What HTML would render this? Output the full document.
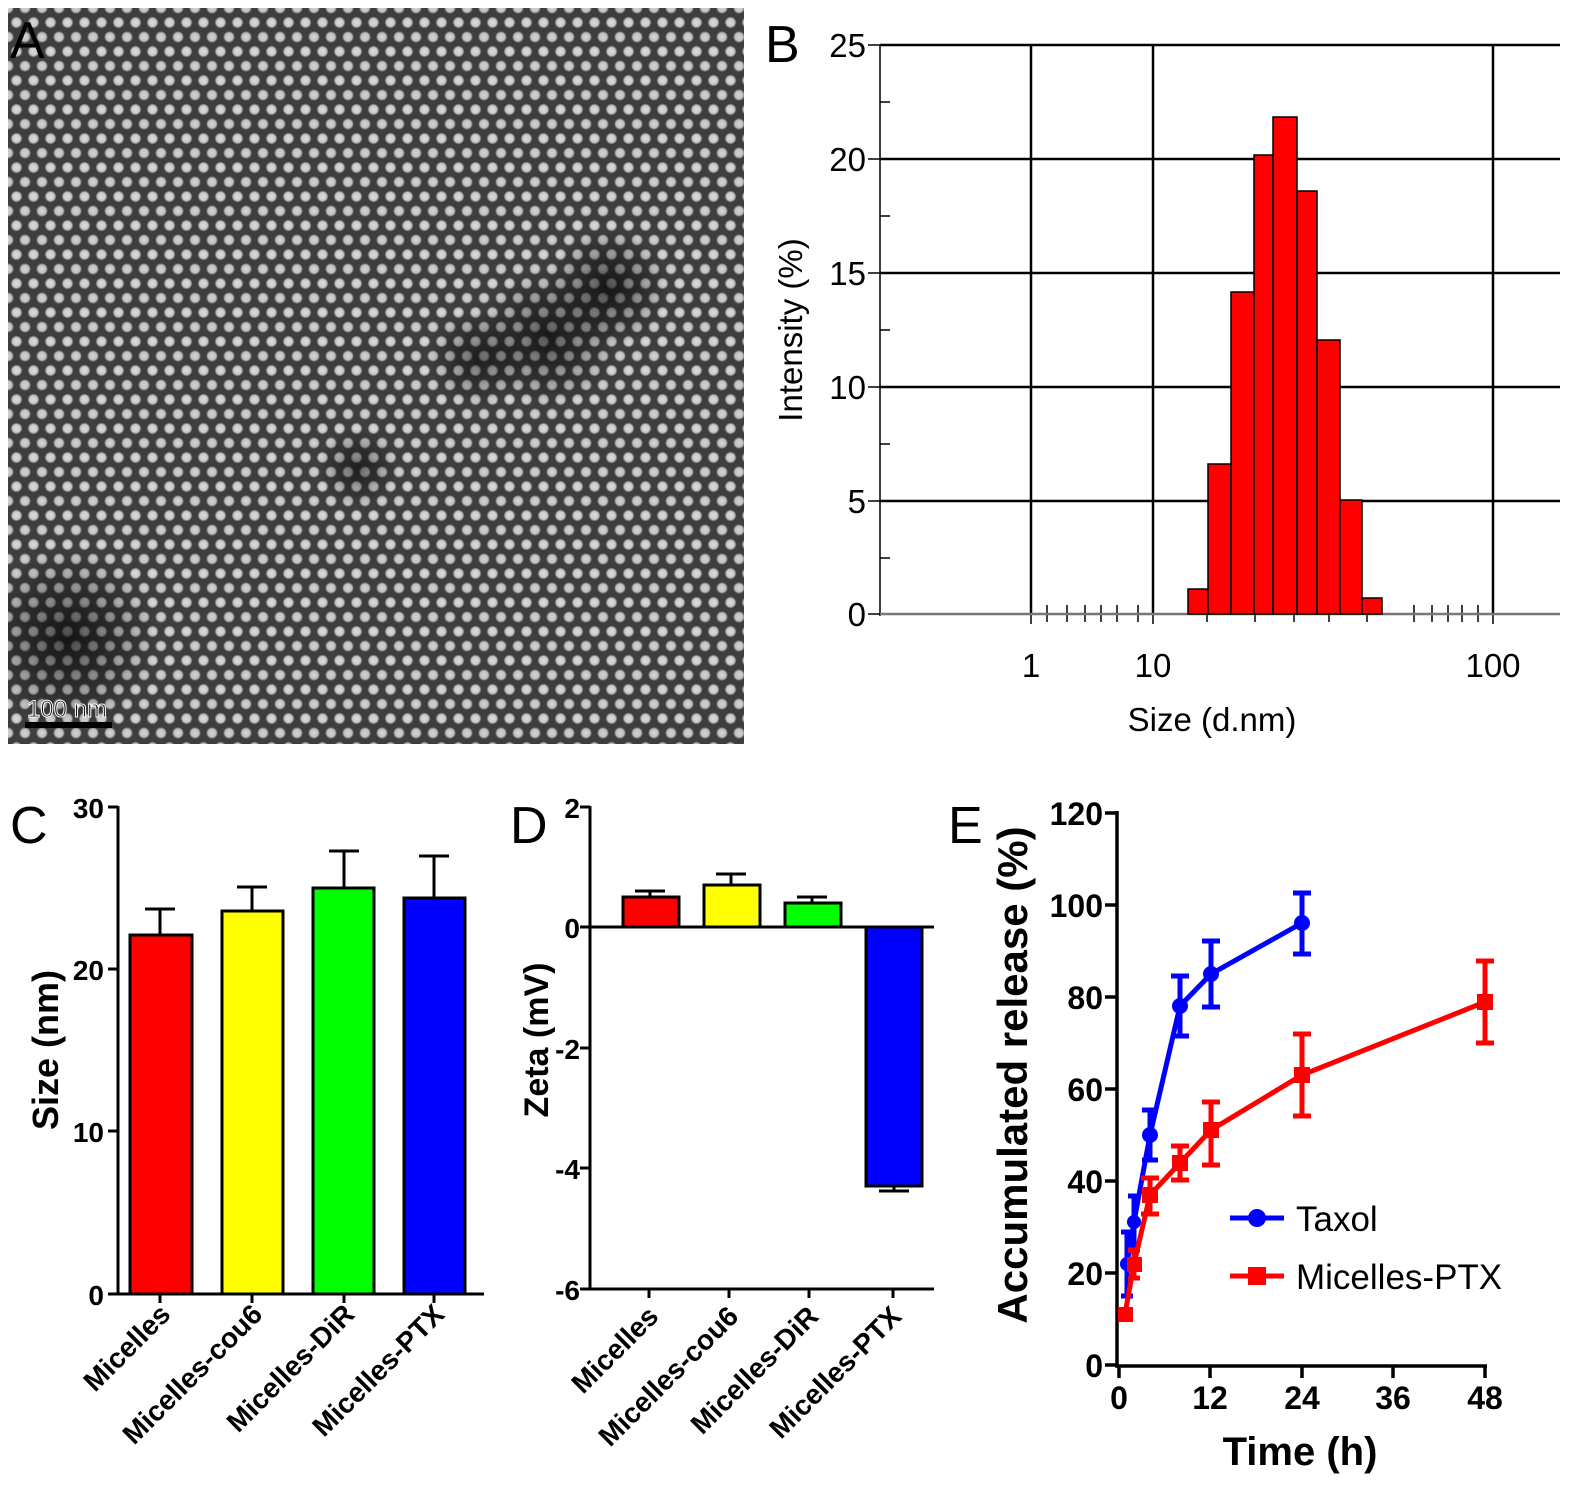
<!DOCTYPE html>
<html><head><meta charset="utf-8"><style>
html,body{margin:0;padding:0;background:#fff;}
body{width:1575px;height:1493px;position:relative;overflow:hidden;}
#tem{position:absolute;left:8px;top:8px;width:736px;height:736px;
background:
radial-gradient(circle at 50% 50%, rgba(0,0,0,0.6) 0, rgba(0,0,0,0) 70px) 470px 260px/140px 140px no-repeat,
radial-gradient(circle at 50% 50%, rgba(0,0,0,0.65) 0, rgba(0,0,0,0) 60px) 540px 200px/120px 160px no-repeat,
radial-gradient(circle at 50% 50%, rgba(0,0,0,0.65) 0, rgba(0,0,0,0) 90px) -30px 540px/180px 180px no-repeat,
radial-gradient(circle at 50% 50%, rgba(0,0,0,0.5) 0, rgba(0,0,0,0) 40px) 310px 420px/80px 80px no-repeat,
radial-gradient(circle at 50% 50%, rgba(0,0,0,0.5) 0, rgba(0,0,0,0) 50px) 420px 300px/100px 100px no-repeat,
radial-gradient(circle, #dcdcdc 0, #c8c8c8 4px, rgba(60,60,60,0) 6px) 0 0/17px 29px,
radial-gradient(circle, #d4d4d4 0, #c0c0c0 4px, rgba(60,60,60,0) 6px) 8.5px 14.5px/17px 29px,
#3e3e3e;}
text{font-family:"Liberation Sans",sans-serif;}
</style></head><body>
<div id="tem"></div>
<svg width="1575" height="1493" style="position:absolute;left:0;top:0">
<!-- scale bar A -->
<text x="27" y="717" font-size="24" fill="#111" stroke="#fff" stroke-width="1">100 nm</text>
<line x1="25" y1="725" x2="112" y2="725" stroke="#000" stroke-width="6"/>
<text x="10" y="58" font-size="52" fill="#000">A</text>

<!-- Panel B -->
<text x="765" y="62" font-size="52">B</text>
<g stroke="#000" stroke-width="2.5">
<line x1="880" y1="45" x2="1560" y2="45"/><line x1="880" y1="159" x2="1560" y2="159"/>
<line x1="880" y1="273" x2="1560" y2="273"/><line x1="880" y1="387" x2="1560" y2="387"/>
<line x1="880" y1="501" x2="1560" y2="501"/>
<line x1="1031" y1="45" x2="1031" y2="614"/><line x1="1153" y1="45" x2="1153" y2="614"/><line x1="1493" y1="45" x2="1493" y2="614"/>
</g>
<g stroke="#000" stroke-width="1.5">
<line x1="880" y1="45" x2="880" y2="616"/>
<line x1="868" y1="45" x2="880" y2="45"/><line x1="868" y1="159" x2="880" y2="159"/><line x1="868" y1="273" x2="880" y2="273"/><line x1="868" y1="387" x2="880" y2="387"/><line x1="868" y1="501" x2="880" y2="501"/><line x1="868" y1="614" x2="880" y2="614"/>
<line x1="880" y1="102" x2="890" y2="102"/><line x1="880" y1="216" x2="890" y2="216"/><line x1="880" y1="330" x2="890" y2="330"/><line x1="880" y1="444" x2="890" y2="444"/><line x1="880" y1="558" x2="890" y2="558"/>
<line x1="1031" y1="604" x2="1031" y2="624"/><line x1="1153" y1="604" x2="1153" y2="624"/><line x1="1493" y1="604" x2="1493" y2="624"/>
<line x1="1047" y1="605" x2="1047" y2="622"/><line x1="1067" y1="605" x2="1067" y2="622"/><line x1="1085" y1="605" x2="1085" y2="622"/><line x1="1101" y1="605" x2="1101" y2="622"/><line x1="1117" y1="605" x2="1117" y2="622"/><line x1="1138" y1="605" x2="1138" y2="622"/>
<line x1="1207" y1="605" x2="1207" y2="622"/><line x1="1255" y1="605" x2="1255" y2="622"/><line x1="1294" y1="605" x2="1294" y2="622"/><line x1="1329" y1="605" x2="1329" y2="622"/><line x1="1367" y1="605" x2="1367" y2="622"/>
<line x1="1414" y1="605" x2="1414" y2="622"/><line x1="1432" y1="605" x2="1432" y2="622"/><line x1="1448" y1="605" x2="1448" y2="622"/><line x1="1462" y1="605" x2="1462" y2="622"/><line x1="1478" y1="605" x2="1478" y2="622"/>
</g>
<line x1="880" y1="614" x2="1560" y2="614" stroke="#777" stroke-width="2.5"/>
<g fill="#ff0000" stroke="#000" stroke-width="1.5">
<rect x="1188" y="589" width="20" height="25"/>
<rect x="1208" y="464" width="23" height="150"/>
<rect x="1231" y="292" width="23" height="322"/>
<rect x="1254" y="155" width="19" height="459"/>
<rect x="1273" y="117" width="24" height="497"/>
<rect x="1297" y="191" width="20" height="423"/>
<rect x="1317" y="340" width="23" height="274"/>
<rect x="1340" y="500" width="22" height="114"/>
<rect x="1362" y="598" width="20" height="16"/>
</g>
<g font-size="33" text-anchor="end">
<text x="866" y="57">25</text><text x="866" y="171">20</text><text x="866" y="285">15</text><text x="866" y="399">10</text><text x="866" y="513">5</text><text x="866" y="626">0</text>
</g>
<g font-size="33" text-anchor="middle">
<text x="1031" y="677">1</text><text x="1153" y="677">10</text><text x="1493" y="677">100</text>
<text x="1212" y="731">Size (d.nm)</text>
<text transform="translate(802,330) rotate(-90)">Intensity (%)</text>
</g>

<!-- Panel C -->
<text x="10" y="843" font-size="52">C</text>
<g stroke="#000" stroke-width="3">
<line x1="118" y1="806" x2="118" y2="1295"/><line x1="116" y1="1294" x2="484" y2="1294"/>
<line x1="108" y1="807" x2="118" y2="807"/><line x1="108" y1="969" x2="118" y2="969"/><line x1="108" y1="1131" x2="118" y2="1131"/><line x1="108" y1="1294" x2="118" y2="1294"/>
<line x1="160" y1="1294" x2="160" y2="1303"/><line x1="252" y1="1294" x2="252" y2="1303"/><line x1="344" y1="1294" x2="344" y2="1303"/><line x1="434" y1="1294" x2="434" y2="1303"/>
<line x1="160" y1="935" x2="160" y2="909"/><line x1="145" y1="909" x2="175" y2="909"/>
<line x1="252" y1="911" x2="252" y2="887"/><line x1="237" y1="887" x2="267" y2="887"/>
<line x1="344" y1="888" x2="344" y2="851"/><line x1="329" y1="851" x2="359" y2="851"/>
<line x1="434" y1="898" x2="434" y2="856"/><line x1="419" y1="856" x2="449" y2="856"/>
<rect x="130" y="935" width="62" height="359" fill="#ff0000"/>
<rect x="222" y="911" width="61" height="383" fill="#ffff00"/>
<rect x="313" y="888" width="61" height="406" fill="#00ff00"/>
<rect x="404" y="898" width="61" height="396" fill="#0000ff"/>
</g>
<g font-size="28" font-weight="bold" text-anchor="end">
<text x="104" y="818">30</text><text x="104" y="980">20</text><text x="104" y="1142">10</text><text x="104" y="1305">0</text>
</g>
<text transform="translate(58,1050) rotate(-90)" font-size="36" font-weight="bold" text-anchor="middle">Size (nm)</text>
<g font-size="28" font-weight="bold" text-anchor="end">
<text transform="translate(172,1316) rotate(-45)">Micelles</text>
<text transform="translate(264,1316) rotate(-45)">Micelles-cou6</text>
<text transform="translate(356,1316) rotate(-45)">Micelles-DiR</text>
<text transform="translate(446,1316) rotate(-45)">Micelles-PTX</text>
</g>

<!-- Panel D -->
<text x="510" y="843" font-size="52">D</text>
<g stroke="#000" stroke-width="3">
<line x1="590" y1="806" x2="590" y2="1290"/><line x1="588" y1="927" x2="934" y2="927"/>
<line x1="588" y1="1289" x2="934" y2="1289"/>
<line x1="649" y1="1289" x2="649" y2="1298"/><line x1="729" y1="1289" x2="729" y2="1298"/><line x1="809" y1="1289" x2="809" y2="1298"/><line x1="893" y1="1289" x2="893" y2="1298"/>
<line x1="580" y1="807" x2="590" y2="807"/><line x1="580" y1="927" x2="590" y2="927"/><line x1="580" y1="1048" x2="590" y2="1048"/><line x1="580" y1="1168" x2="590" y2="1168"/><line x1="580" y1="1289" x2="590" y2="1289"/>
<line x1="650" y1="897" x2="650" y2="891"/><line x1="635" y1="891" x2="665" y2="891"/>
<line x1="731" y1="885" x2="731" y2="874"/><line x1="716" y1="874" x2="746" y2="874"/>
<line x1="812" y1="903" x2="812" y2="897"/><line x1="797" y1="897" x2="827" y2="897"/>
<line x1="894" y1="1186" x2="894" y2="1191"/><line x1="879" y1="1191" x2="909" y2="1191"/>
<rect x="623" y="897" width="56" height="30" fill="#ff0000"/>
<rect x="704" y="885" width="56" height="42" fill="#ffff00"/>
<rect x="785" y="903" width="56" height="24" fill="#00ff00"/>
<rect x="866" y="927" width="56" height="259" fill="#0000ff"/>
</g>
<g font-size="28" font-weight="bold" text-anchor="end">
<text x="580" y="818">2</text><text x="580" y="938">0</text><text x="580" y="1059">-2</text><text x="580" y="1179">-4</text><text x="580" y="1300">-6</text>
</g>
<text transform="translate(548,1040) rotate(-90)" font-size="34" font-weight="bold" text-anchor="middle">Zeta (mV)</text>
<g font-size="28" font-weight="bold" text-anchor="end">
<text transform="translate(660,1318) rotate(-45)">Micelles</text>
<text transform="translate(740,1318) rotate(-45)">Micelles-cou6</text>
<text transform="translate(820,1318) rotate(-45)">Micelles-DiR</text>
<text transform="translate(903,1318) rotate(-45)">Micelles-PTX</text>
</g>

<!-- Panel E -->
<text x="948" y="843" font-size="52">E</text>
<g stroke="#000" stroke-width="3.5">
<line x1="1117" y1="811" x2="1117" y2="1367"/><line x1="1115" y1="1366" x2="1487" y2="1366"/>
<line x1="1105" y1="813" x2="1117" y2="813"/><line x1="1105" y1="905" x2="1117" y2="905"/><line x1="1105" y1="997" x2="1117" y2="997"/><line x1="1105" y1="1089" x2="1117" y2="1089"/><line x1="1105" y1="1181" x2="1117" y2="1181"/><line x1="1105" y1="1273" x2="1117" y2="1273"/><line x1="1105" y1="1365" x2="1117" y2="1365"/>
<line x1="1119" y1="1366" x2="1119" y2="1378"/><line x1="1210" y1="1366" x2="1210" y2="1378"/><line x1="1302" y1="1366" x2="1302" y2="1378"/><line x1="1393" y1="1366" x2="1393" y2="1378"/><line x1="1485" y1="1366" x2="1485" y2="1378"/>
</g>
<g font-size="32" font-weight="bold" text-anchor="end">
<text x="1103" y="825">120</text><text x="1103" y="917">100</text><text x="1103" y="1009">80</text><text x="1103" y="1101">60</text><text x="1103" y="1193">40</text><text x="1103" y="1285">20</text><text x="1103" y="1377">0</text>
</g>
<g font-size="32" font-weight="bold" text-anchor="middle">
<text x="1119" y="1409">0</text><text x="1210" y="1409">12</text><text x="1302" y="1409">24</text><text x="1393" y="1409">36</text><text x="1485" y="1409">48</text>
</g>
<text x="1300" y="1465" font-size="40" font-weight="bold" text-anchor="middle">Time (h)</text>
<text transform="translate(1027,1075) rotate(-90)" font-size="42" font-weight="bold" text-anchor="middle">Accumulated release (%)</text>
<!-- taxol -->
<g stroke="#0000ff" stroke-width="5" fill="none">
<polyline points="1127,1264 1134,1222 1150,1135 1180,1006 1211,974 1302,923"/>
<path d="M1127,1232V1296M1121,1232h12M1121,1296h12"/>
<path d="M1134,1196V1248M1128,1196h12M1128,1248h12"/>
<path d="M1150,1110V1160M1142,1110h16M1142,1160h16"/>
<path d="M1180,976V1036M1171,976h18M1171,1036h18"/>
<path d="M1211,941V1007M1202,941h18M1202,1007h18"/>
<path d="M1302,893V954M1293,893h18M1293,954h18"/>
</g>
<g fill="#0000ff"><circle cx="1127" cy="1264" r="7"/><circle cx="1134" cy="1222" r="7"/><circle cx="1150" cy="1135" r="8"/><circle cx="1180" cy="1006" r="8"/><circle cx="1211" cy="974" r="8"/><circle cx="1302" cy="923" r="8"/></g>
<!-- PTX -->
<g stroke="#ff0000" stroke-width="5" fill="none">
<polyline points="1125,1314 1134,1264 1150,1195 1180,1163 1211,1130 1302,1075 1485,1002"/>
<path d="M1134,1250V1278M1128,1250h12M1128,1278h12"/>
<path d="M1150,1178V1214M1141,1178h18M1141,1214h18"/>
<path d="M1180,1146V1180M1171,1146h18M1171,1180h18"/>
<path d="M1211,1102V1165M1202,1102h18M1202,1165h18"/>
<path d="M1302,1034V1116M1293,1034h18M1293,1116h18"/>
<path d="M1485,961V1043M1476,961h18M1476,1043h18"/>
</g>
<g fill="#ff0000"><rect x="1118" y="1307" width="15" height="15"/><rect x="1127" y="1257" width="15" height="15"/><rect x="1142" y="1187" width="16" height="16"/><rect x="1172" y="1155" width="16" height="16"/><rect x="1203" y="1122" width="16" height="16"/><rect x="1294" y="1067" width="16" height="16"/><rect x="1477" y="994" width="16" height="16"/></g>
<!-- legend -->
<line x1="1230" y1="1218" x2="1284" y2="1218" stroke="#0000ff" stroke-width="5"/><circle cx="1257" cy="1218" r="9" fill="#0000ff"/>
<text x="1296" y="1231" font-size="35">Taxol</text>
<line x1="1230" y1="1276" x2="1284" y2="1276" stroke="#ff0000" stroke-width="5"/><rect x="1248" y="1267" width="18" height="18" fill="#ff0000"/>
<text x="1296" y="1289" font-size="35">Micelles-PTX</text>
</svg>
</body></html>
